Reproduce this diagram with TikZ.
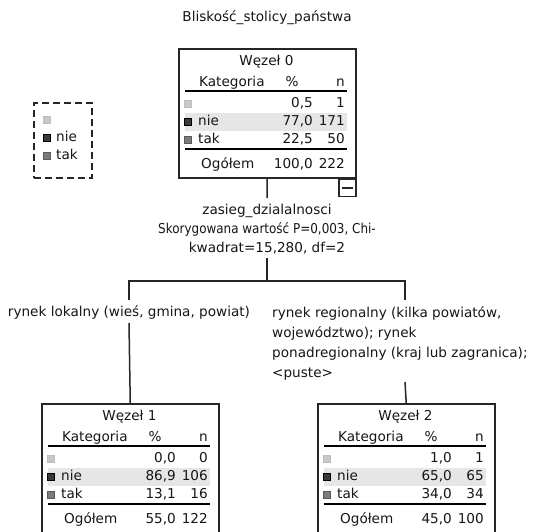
\documentclass[tikz,border=0pt]{standalone}
\usepackage{fontspec}
\usepackage{graphicx}
\setmainfont{DejaVu Sans}
\usetikzlibrary{calc}
\definecolor{txt}{HTML}{161616}
\definecolor{lnc}{HTML}{262626}
\definecolor{bandc}{HTML}{E6E6E6}
\definecolor{sqAfill}{HTML}{C8C8C8}
\definecolor{sqAdraw}{HTML}{BDBDBD}
\definecolor{sqBfill}{HTML}{3A3A3A}
\definecolor{sqBdraw}{HTML}{000000}
\definecolor{sqCfill}{HTML}{7C7C7C}
\definecolor{sqCdraw}{HTML}{5A5A5A}
\tikzset{
  tt/.style={inner sep=0pt, text=txt, font=\fontsize{13.6}{16}\selectfont, text height=10pt, text depth=3pt},
  boxnode/.style={draw=lnc, line width=1.5pt, minimum width=177pt, minimum height=129pt, inner sep=0pt},
  conn/.style={draw=lnc, line width=1.5pt},
  rulea/.style={draw=black, line width=1.3pt},
  ruleb/.style={draw=black, line width=2.2pt},
  sqA/.style={fill=sqAfill, draw=sqAdraw, line width=0.6pt, minimum size=6.5pt, inner sep=0pt},
  sqB/.style={fill=sqBfill, draw=sqBdraw, line width=1pt, minimum size=6.5pt, inner sep=0pt},
  sqC/.style={fill=sqCfill, draw=sqCdraw, line width=0.7pt, minimum size=6.5pt, inner sep=0pt},
  legbox/.style={draw=lnc, line width=1.5pt, dash pattern=on 7pt off 4pt, minimum width=58pt, minimum height=75pt, inner sep=0pt},
}
% #1 L, #2 y, #3 square style, #4 label, #5 pct, #6 n
\newcommand\wrowx[6]{%
  \node[#3] at (#1+10,#2) {};
  \node[tt, anchor=west] at (#1+20,#2) {#4};
  \node[tt, anchor=east] at (#1+135,#2) {#5};
  \node[tt, anchor=east] at (#1+167,#2) {#6};
}
\newcommand\wvalsx[4]{%
  \node[tt, anchor=east] at (#1+135,#2) {#3};
  \node[tt, anchor=east] at (#1+167,#2) {#4};
}
% #1 name, #2 L, #3 T, #4 title, #5 row1, #6 row2, #7 row3, #8 total
\newcommand\wezelx[8]{%
  \fill[bandc] (#2+7,#3+65) rectangle (#2+169,#3+83);
  \node[boxnode, anchor=north west] (#1) at (#2,#3) {};
  \node[tt] at (#2+88.5,#3+14) {#4};
  \node[tt, anchor=west] at (#2+21,#3+35) {Kategoria};
  \node[tt] at (#2+114,#3+35) {\%};
  \node[tt, anchor=east] at (#2+167,#3+35) {n};
  \draw[rulea] (#2+7,#3+43) -- (#2+169,#3+43);
  \wrowx{#2}{#3+56}{sqA}{}#5
  \wrowx{#2}{#3+74}{sqB}{nie}#6
  \wrowx{#2}{#3+92}{sqC}{tak}#7
  \draw[ruleb] (#2+7,#3+101) -- (#2+169,#3+101);
  \node[tt, anchor=west] at (#2+23,#3+117) {Ogółem};
  \wvalsx{#2}{#3+117}#8
}
\begin{document}
\begin{tikzpicture}[x=1pt, y=-1pt]
\useasboundingbox (0,0) rectangle (536,531);
\clip (0,0) rectangle (536,531);
\fill[white] (0,0) rectangle (536,531);

% title
\node[tt] (title) at (267,18) {Bliskość\_stolicy\_państwa};

% legend
\node[legbox, anchor=north west] (leg) at (33,102) {};
\node[sqA, minimum size=7pt] (legA) at (46.5,120) {};
\node[sqB, minimum size=7pt] (legB) at (46.5,138) {};
\node[sqC, minimum size=7pt] (legC) at (46.5,156) {};
\node[tt, anchor=west] (legBt) at (56,138) {nie};
\node[tt, anchor=west] (legCt) at (56,156) {tak};

% nodes
\wezelx{n0}{178}{48}{Węzeł 0}{{0,5}{1}}{{77,0}{171}}{{22,5}{50}}{{100,0}{222}}
\wezelx{n1}{41}{403}{Węzeł 1}{{0,0}{0}}{{86,9}{106}}{{13,1}{16}}{{55,0}{122}}
\wezelx{n2}{317}{403}{Węzeł 2}{{1,0}{1}}{{65,0}{65}}{{34,0}{34}}{{45,0}{100}}

% collapse box
\node[draw=lnc, line width=1.5pt, minimum width=17pt, minimum height=17pt, inner sep=0pt, anchor=north east] (m0) at (n0.south east) {};
\draw[conn] ([xshift=4pt]m0.west) -- ([xshift=-4pt]m0.east);

% split text
\node[tt, align=center, font=\fontsize{13.6}{19}\selectfont, text height=, text depth=] (split) at (267,229)
  {zasieg\_dzialalnosci\\\scalebox{0.88}[1]{Skorygowana wartość P=0,003, Chi-}\\kwadrat=15,280, df=2};

% connectors
\coordinate (s0a) at (267,198);
\coordinate (s0b) at (267,258);
\coordinate (j0) at (267,281);
\coordinate (jl) at (129,281);
\coordinate (jr) at (405,281);
\coordinate (dl) at (129,300);
\coordinate (dr) at (405,300);
\coordinate (ul) at (129,323);
\coordinate (ur) at (405,382);
\draw[conn] (n0.south) -- (s0a);
\draw[conn] (s0b) -- (j0);
\draw[conn] (dl) -- (jl) -- (jr) -- (dr);
\draw[conn] (ul) -- (n1.north);
\draw[conn] (ur) -- (n2.north);

% branch labels
\node[tt] (lab1) at (129,313) {rynek lokalny (wieś, gmina, powiat)};
\node[tt, anchor=west, align=left, font=\fontsize{13.6}{20}\selectfont, text height=, text depth=] (lab2) at (272,343)
  {rynek regionalny (kilka powiatów,\\województwo); rynek\\ponadregionalny (kraj lub zagranica);\\<puste>};
\end{tikzpicture}
\end{document}
